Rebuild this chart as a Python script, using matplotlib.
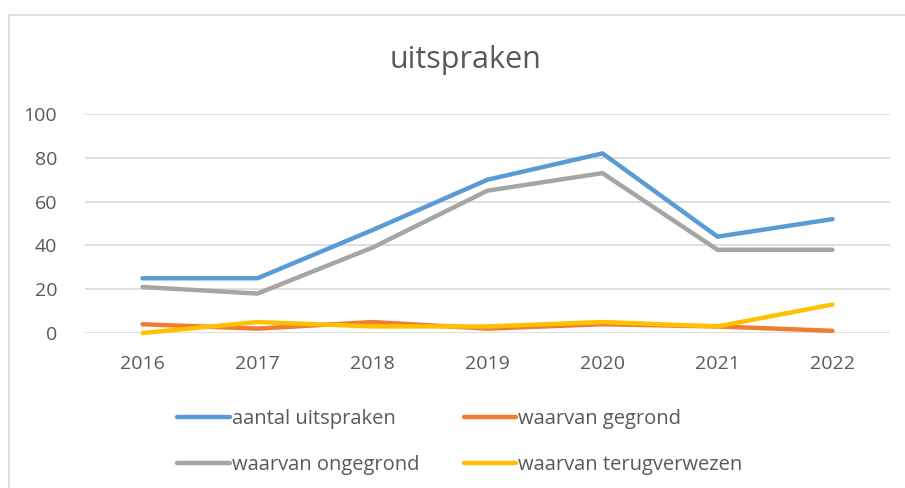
import matplotlib.pyplot as plt
from matplotlib.patches import Rectangle

plt.rcParams['font.family'] = ['Open Sans', 'DejaVu Sans']

years = ['2016', '2017', '2018', '2019', '2020', '2021', '2022']
aantal = [25, 25, 47, 70, 82, 44, 52]
gegrond = [4, 2, 5, 2, 4, 3, 1]
ongegrond = [21, 18, 39, 65, 73, 38, 38]
terugverwezen = [0, 5, 3, 3, 5, 3, 13]

series = [
    ('aantal uitspraken', aantal, '#5b9bd5'),
    ('waarvan gegrond', gegrond, '#ed7d31'),
    ('waarvan ongegrond', ongegrond, '#a5a5a5'),
    ('waarvan terugverwezen', terugverwezen, '#ffc000'),
]

text_color = '#595959'
fig = plt.figure(figsize=(9.05, 4.88), dpi=100)
ax = fig.add_axes([85 / 905, 1 - 333 / 488, 805 / 905, 219 / 488])

x = range(len(years))
for label, values, color in series:
    ax.plot(x, values, color=color, linewidth=3.2, label=label,
            solid_capstyle='round', solid_joinstyle='round', clip_on=False)

ax.set_xlim(-0.5, len(years) - 0.5)
ax.set_ylim(0, 100)
ax.set_yticks(range(0, 101, 20))
ax.set_xticks(list(x))
ax.set_xticklabels(years)
ax.tick_params(length=0, labelsize=14, labelcolor=text_color)
ax.tick_params(axis='y', pad=20)
ax.tick_params(axis='x', pad=16)
ax.grid(axis='y', color='#d9d9d9', linewidth=1.2)
ax.set_axisbelow(True)
for s in ax.spines.values():
    s.set_visible(False)

fig.text(0.514, 1 - 60 / 488, 'uitspraken', ha='center', va='center',
         fontsize=22, color=text_color)

# chart border
fig.patches.append(Rectangle((9 / 905, -0.1), 1.2, 1 - 15 / 488 + 0.1,
                             transform=fig.transFigure, fill=False,
                             edgecolor='#d9d9d9', linewidth=1.2))

# legend in row order: matplotlib fills columns first
handles, labels = ax.get_legend_handles_labels()
order = [0, 2, 1, 3]
leg = fig.legend([handles[i] for i in order], [labels[i] for i in order],
                 loc='center', bbox_to_anchor=(0.508, 1 - 442 / 488), ncol=2,
                 frameon=False, fontsize=14.5, handlelength=2.6,
                 handletextpad=0.1, columnspacing=2.2, labelspacing=1.25,
                 labelcolor=text_color)

plt.savefig('out.png', dpi=100)
